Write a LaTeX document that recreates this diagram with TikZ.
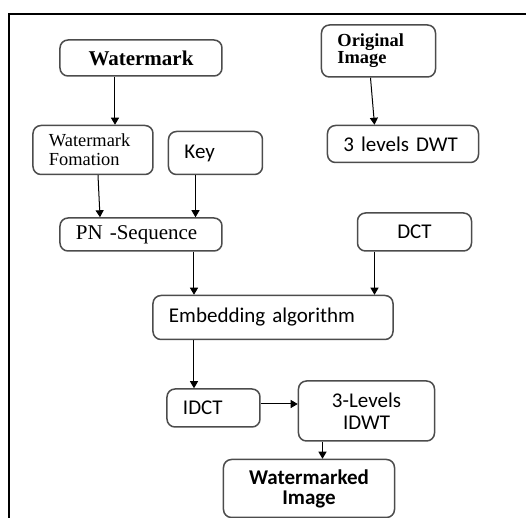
\documentclass[tikz,border=0pt]{standalone}
\usepackage{fontspec}
\setmainfont{Liberation Serif}
\newfontfamily\calibri[WordSpace=0.7]{Carlito}
\usetikzlibrary{arrows.meta, positioning}

\begin{document}
\begin{tikzpicture}[
	box/.style={rectangle, draw=black!70, line width=.75pt, rounded corners=4pt, inner ysep=2pt},
	titlebox/.style={box, font=\fontsize{10.5}{12}\selectfont\bfseries, align=center},
	smallbox/.style={box, font=\fontsize{9.2}{9.5}\selectfont, align=left, inner xsep=8pt},
	serifbox/.style={box, font=\fontsize{10.5}{12}\selectfont, align=left, inner xsep=8pt},
	sansbox/.style={box, font=\calibri\fontsize{10.5}{11}\selectfont, align=left, inner xsep=8pt},
	boldsansbox/.style={box, font=\calibri\fontsize{10.5}{10}\selectfont\bfseries, align=center, inner xsep=8pt},
	arrow/.style={-{Triangle[length=3.5pt, width=4pt]}, line width=.5pt},
	frame/.style={line width=1pt}
	]
	\useasboundingbox (-70.5pt,-230pt) rectangle (192.5pt,29pt);
	\draw[frame] (-66pt,-230pt) |- (192.5pt,22pt);

	\node[titlebox, minimum width=81pt, minimum height=18pt] (wm) {Watermark};
	\node[smallbox, font=\fontsize{9.2}{8.5}\selectfont\bfseries, text width=41pt, minimum height=26pt, right=49pt of wm, yshift=3.5pt] (orig) {Original\\Image};
	\node[smallbox, text width=44pt, minimum height=24.5pt, below=24pt of wm, xshift=-24pt] (wmf) {Watermark\\Fomation};
	\node[sansbox, text width=31pt, minimum height=21.5pt, right=7pt of wmf, yshift=-1.5pt] (key) {Key};
	\node[sansbox, text width=59.5pt, minimum height=18.5pt, below=23.5pt of orig, xshift=12.25pt] (dwt) {3 levels DWT};
	\node[serifbox, text width=65pt, minimum height=16.5pt, below=21pt of wmf, xshift=24pt] (pn) {PN -Sequence};
	\node[sansbox, align=center, text width=41pt, minimum height=19pt, below=24.5pt of dwt, xshift=5.75pt] (dct) {DCT};
	\node[sansbox, text width=104pt, minimum height=22pt, below=21.5pt of pn, xshift=66pt] (emb) {Embedding algorithm};
	\node[sansbox, text width=30.5pt, minimum height=19pt, below=24pt of emb, xshift=-29.75pt] (idct) {IDCT};
	\node[sansbox, align=center, text width=52pt, minimum height=30pt, right=18.5pt of idct, yshift=-1.5pt] (idwt) {3-Levels\\IDWT};
	\node[boldsansbox, text width=69.5pt, minimum height=29pt, below=8.5pt of idwt, xshift=-28.75pt] (wmi) {Watermarked\\Image};

	\draw[arrow] ([xshift=-13pt]wm.south) -- ([xshift=-13pt]wm.south |- wmf.north);
	\draw[arrow] ([xshift=-4pt]orig.south) -- ([xshift=-14.25pt]dwt.north);
	\draw[arrow] ([xshift=2.5pt]wmf.south) -- ([xshift=-20.5pt]pn.north);
	\draw[arrow] ([xshift=-10pt]key.south) -- ([xshift=-10pt]key.south |- pn.north);
	\draw[arrow] ([xshift=26.5pt]pn.south) -- ([xshift=26.5pt]pn.south |- emb.north);
	\draw[arrow] ([xshift=-20pt]dct.south) -- ([xshift=-20pt]dct.south |- emb.north);
	\draw[arrow] ([xshift=-39.5pt]emb.south) -- ([xshift=-39.5pt]emb.south |- idct.north);
	\draw[arrow] ([yshift=2pt]idct.east) -- ([yshift=2pt]idct.east -| idwt.west);
	\draw[arrow] ([xshift=-22pt]idwt.south) -- ([xshift=-22pt]idwt.south |- wmi.north);
\end{tikzpicture}
\end{document}
